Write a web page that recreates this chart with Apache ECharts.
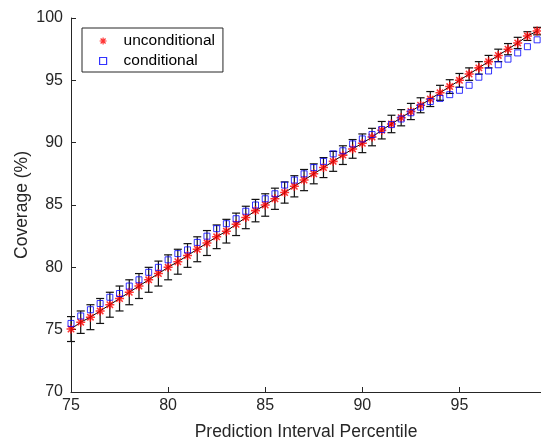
<!DOCTYPE html>
<html>
<head>
<meta charset="utf-8">
<script src="https://cdn.jsdelivr.net/npm/echarts@6/dist/echarts.min.js"></script>
<style>
html,body{margin:0;padding:0;background:#fff;}
#chart{width:541px;height:446px;}
</style>
</head>
<body>
<div id="chart"></div>
<script>
const percentiles = [75,75.5,76,76.5,77,77.5,78,78.5,79,79.5,80,80.5,81,81.5,82,82.5,83,83.5,84,84.5,85,85.5,86,86.5,87,87.5,88,88.5,89,89.5,90,90.5,91,91.5,92,92.5,93,93.5,94,94.5,95,95.5,96,96.5,97,97.5,98,98.5,99];
const unconditional = [75.05,75.6,76.0,76.5,77.0,77.5,78.0,78.5,79.0,79.5,80.0,80.45,80.95,81.45,81.95,82.45,82.9,83.45,84.0,84.55,85.0,85.5,86.0,86.5,87.0,87.5,88.0,88.5,89.0,89.5,89.95,90.45,91.0,91.5,92.0,92.5,93.0,93.5,94.0,94.5,95.0,95.5,96.0,96.5,97.0,97.5,98.0,98.55,98.95];
const uncondError = [1.0,0.9,1.0,1.0,1.0,1.0,1.0,1.0,1.0,1.0,1.0,1.0,0.95,1.0,1.0,0.95,0.95,0.9,0.9,0.9,0.9,0.85,0.85,0.85,0.85,0.8,0.8,0.8,0.75,0.75,0.75,0.7,0.7,0.7,0.65,0.65,0.6,0.6,0.6,0.55,0.55,0.5,0.5,0.5,0.5,0.45,0.45,0.35,0.3];
const conditional = [75.5,76.1,76.6,77.1,77.6,77.9,78.5,79.0,79.6,80.0,80.6,81.1,81.4,82.0,82.5,83.1,83.5,83.9,84.5,85.0,85.5,85.9,86.6,87.0,87.5,88.0,88.5,89.1,89.35,89.9,90.3,90.65,91.05,91.45,91.9,92.4,92.85,93.3,93.55,93.85,94.2,94.6,95.25,95.75,96.25,96.7,97.2,97.7,98.25];
const xTicks = [75,80,85,90,95];
const yTicks = [70,75,80,85,90,95,100];

const FONT = "'Liberation Sans', Arial, Helvetica, sans-serif";
const AX = '#262626';
const starPath = 'path://M-0.17,-1L0.17,-1L0.17,1L-0.17,1Z M-1,-0.17L1,-0.17L1,0.17L-1,0.17Z M-0.59,-0.83L0.83,0.59L0.59,0.83L-0.83,-0.59Z M0.83,-0.59L-0.59,0.83L-0.83,0.59L0.59,-0.83Z';

const uncData = percentiles.map((x,i)=>[x, unconditional[i]]);
const condData = percentiles.map((x,i)=>[x, conditional[i]]);
const errData = percentiles.map((x,i)=>[x, unconditional[i]-uncondError[i], unconditional[i]+uncondError[i]]);

const chart = echarts.init(document.getElementById('chart'), null, {renderer:'canvas'});
chart.setOption({
  animation:false,
  backgroundColor:'#fff',
  grid:{left:71, right:0, top:18, bottom:54, containLabel:false},
  xAxis:{
    type:'value', min:75, max:99.2, interval:5,
    name:'Prediction Interval Percentile', nameLocation:'middle', nameGap:31,
    nameMoveOverlap:false,
    nameTextStyle:{fontFamily:FONT, fontSize:17.5, color:AX},
    axisLine:{show:true, lineStyle:{color:AX, width:1}},
    axisTick:{show:true, inside:true, length:5, lineStyle:{color:AX}},
    axisLabel:{fontFamily:FONT, fontSize:16, color:AX, margin:6, showMaxLabel:false,
      formatter:v=> xTicks.includes(v) ? String(v) : ''},
    splitLine:{show:false}
  },
  yAxis:{
    type:'value', min:70, max:100, interval:5,
    name:'Coverage (%)', nameLocation:'middle', nameGap:40,
    nameMoveOverlap:false,
    nameTextStyle:{fontFamily:FONT, fontSize:17.5, color:AX},
    axisLine:{show:true, lineStyle:{color:AX, width:1}},
    axisTick:{show:true, inside:true, length:5, lineStyle:{color:AX}},
    axisLabel:{fontFamily:FONT, fontSize:16, color:AX, margin:8,
      formatter:v=> yTicks.includes(v) ? String(v) : ''},
    splitLine:{show:false}
  },
  legend:{
    orient:'vertical', left:82, top:28,
    backgroundColor:'#fff', borderColor:AX, borderWidth:1,
    padding:[5,8,3,17], itemWidth:7, itemHeight:7, itemGap:4,
    textStyle:{fontFamily:FONT, fontSize:15.5, color:'#000', lineHeight:16, padding:[0,0,0,12]},
    data:[
      {name:'unconditional', icon:starPath},
      {name:'conditional', icon:'rect', itemStyle:{color:'rgba(0,0,0,0)', borderColor:'#0000ff', borderWidth:1.2}}
    ]
  },
  series:[
    {
      name:'errorbars', type:'custom', z:1,
      data:errData,
      renderItem:function(params, api){
        const x = api.value(0);
        const lo = api.coord([x, api.value(1)]);
        const hi = api.coord([x, api.value(2)]);
        const w = 4;
        const st = {stroke:'#111', lineWidth:1.2};
        return {type:'group', children:[
          {type:'line', shape:{x1:lo[0],y1:lo[1],x2:hi[0],y2:hi[1]}, style:st},
          {type:'line', shape:{x1:lo[0]-w,y1:lo[1],x2:lo[0]+w,y2:lo[1]}, style:st},
          {type:'line', shape:{x1:hi[0]-w,y1:hi[1],x2:hi[0]+w,y2:hi[1]}, style:st}
        ]};
      },
      encode:{x:0, y:[1,2]},
      silent:true
    },
    {
      name:'line', type:'line', z:2, data:uncData, showSymbol:false, symbol:'none',
      lineStyle:{color:'#000', width:1}, silent:true
    },
    {
      name:'unconditional', type:'scatter', z:3, data:uncData,
      symbol:starPath, symbolSize:9,
      itemStyle:{color:'#ff0000'}
    },
    {
      name:'conditional', type:'scatter', z:4, data:condData,
      symbol:'rect', symbolSize:6,
      itemStyle:{color:'rgba(0,0,0,0)', borderColor:'#0000ff', borderWidth:1}
    }
  ]
});
</script>
</body>
</html>
